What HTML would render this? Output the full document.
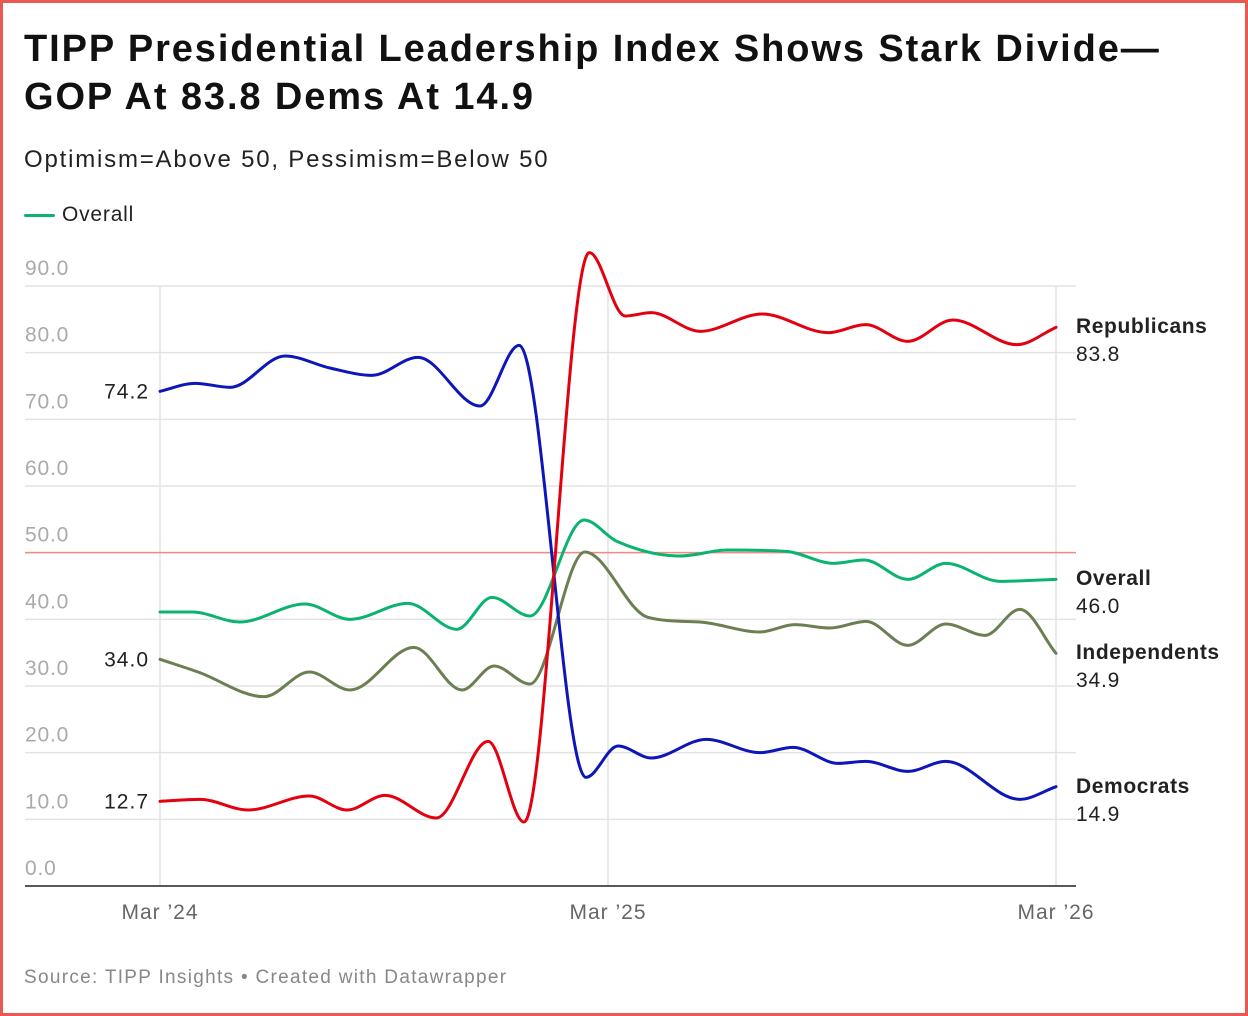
<!DOCTYPE html>
<html><head><meta charset="utf-8"><style>
html,body{margin:0;padding:0;background:#fff}
body{width:1248px;height:1016px;overflow:hidden;position:relative;font-family:"Liberation Sans",sans-serif}
#frame{position:absolute;left:0;top:0;width:1242px;height:1010px;border:3px solid #e8594f}
.t{position:absolute;left:24px;font-weight:bold;font-size:38px;color:#111;line-height:48px;letter-spacing:1.9px}
</style></head><body>
<div id="frame"></div>
<div class="t" style="top:25px">TIPP Presidential Leadership Index Shows Stark Divide—<br>GOP At 83.8 Dems At 14.9</div>
<div style="position:absolute;left:24px;top:146px;font-size:24px;color:#222;letter-spacing:1.8px">Optimism=Above 50, Pessimism=Below 50</div>
<div style="position:absolute;left:24px;top:203px;font-size:21px;color:#222;letter-spacing:0.8px"><span style="display:inline-block;width:31px;height:3px;background:#0ab36f;vertical-align:middle;margin-right:7px;border-radius:2px"></span>Overall</div>
<svg id="c" width="1248" height="1016" style="position:absolute;left:0;top:0"></svg>
<div style="position:absolute;left:24px;top:967px;font-size:19px;color:#888;letter-spacing:1.3px">Source: TIPP Insights • Created with Datawrapper</div>
<script>
const NS="http://www.w3.org/2000/svg";
const yTicks=[0,10,20,30,40,50,60,70,80,90];
const xTickMonths=[0,12,24];
const xTickLabels=["Mar ’24","Mar ’25","Mar ’26"];
// month offsets from Mar 2024
const repMonths=[0,1.07,2.36,4.0,5.01,6.03,7.4,8.79,9.75,11.5,12.46,13.16,14.47,16.13,17.9,18.9,20.03,21.24,22.95,24];
const repVals=[12.7,13.0,11.4,13.5,11.4,13.6,10.2,21.7,9.6,95,85.5,86,83.2,85.8,83,84.2,81.7,84.9,81.2,83.8];
const demMonths=[0,0.94,1.88,3.35,4.55,5.68,6.91,8.57,9.62,11.41,12.27,13.16,14.63,16.07,16.96,18.16,18.9,20.03,21.05,23.03,24];
const demVals=[74.2,75.4,74.8,79.5,77.7,76.6,79.3,72,81.1,16.3,21,19.2,22,20,20.8,18.4,18.7,17.2,18.7,13,14.9];
const ovrMonths=[0,0.86,2.14,3.88,5.09,6.64,7.95,8.89,9.91,11.36,12.24,13.93,15.21,16.77,18.05,18.86,20.03,21.05,22.5,24];
const ovrVals=[41.1,41.1,39.6,42.3,40,42.4,38.5,43.3,40.5,54.9,51.7,49.5,50.4,50.2,48.4,48.9,46,48.4,45.7,46];
const indMonths=[0,1.02,2.79,4.0,5.09,6.8,8.09,8.95,9.91,11.38,13.07,14.46,16.07,17.0,17.95,18.91,20.03,21.05,22.1,23.03,24];
const indVals=[34,32.1,28.4,32.1,29.4,35.8,29.4,33,30.3,50.1,40.3,39.6,38.1,39.2,38.7,39.7,36.1,39.3,37.6,41.5,34.9];
const X=m=>160+m*(896/24);
const Y=v=>886-v*(600/90);
const svg=document.getElementById('c');
function mk(tag,attrs,txt){const e=document.createElementNS(NS,tag);for(const k in attrs)e.setAttribute(k,attrs[k]);if(txt!=null)e.textContent=txt;svg.appendChild(e);return e;}
yTicks.forEach(v=>{
  if(v>0){const g=mk('line',{x1:25,x2:1076,y1:Y(v),y2:Y(v),stroke:'#e3e3e3','stroke-width':1.5});
  
  }
  const t=mk('text',{x:25,y:Y(v)-11,'font-size':21,fill:'#aaa','letter-spacing':0.8,'font-family':'Liberation Sans, sans-serif'},v.toFixed(1));
  
  
});
xTickMonths.forEach((m,i)=>{
  const g=mk('line',{x1:X(m),x2:X(m),y1:Y(90),y2:Y(0),stroke:'#e3e3e3','stroke-width':1.5});
  
  
  const t=mk('text',{x:X(m),y:919,'font-size':21,fill:'#666','text-anchor':'middle','letter-spacing':1,'font-family':'Liberation Sans, sans-serif'},xTickLabels[i]);
  
  
});
const ref=mk('line',{x1:25,x2:1076,y1:Y(50),y2:Y(50),stroke:'#ef8b85','stroke-width':1.5});


const base=mk('line',{x1:25,x2:1076,y1:Y(0),y2:Y(0),stroke:'#222','stroke-width':1.5});


function monotone(xs,ys){
  const n=xs.length,d=[],m=[];
  for(let i=0;i<n-1;i++)d.push((ys[i+1]-ys[i])/(xs[i+1]-xs[i]));
  for(let i=0;i<n;i++){
    if(i===0)m.push(d[0]);else if(i===n-1)m.push(d[n-2]);
    else m.push(d[i-1]*d[i]<=0?0:(d[i-1]+d[i])/2);
  }
  for(let i=0;i<n-1;i++){if(d[i]===0){m[i]=0;m[i+1]=0;continue;}
    const a=m[i]/d[i],b=m[i+1]/d[i],s=a*a+b*b;if(s>9){const t=3/Math.sqrt(s);m[i]=t*a*d[i];m[i+1]=t*b*d[i];}}
  let p=`M${xs[0]},${ys[0]}`;
  for(let i=0;i<n-1;i++){const h=(xs[i+1]-xs[i])/3;
    p+=`C${xs[i]+h},${ys[i]+m[i]*h} ${xs[i+1]-h},${ys[i+1]-m[i+1]*h} ${xs[i+1]},${ys[i+1]}`;}
  return p;
}
function series(ms,vs,color,name){
  const p=mk('path',{d:monotone(ms.map(X),vs.map(Y)),fill:'none',stroke:color,'stroke-width':3,'stroke-linecap':'round'});
  
  
}
series(indMonths,indVals,'#6b7f52','line-independents');
series(ovrMonths,ovrVals,'#0ab36f','line-overall');
series(demMonths,demVals,'#0d16b8','line-democrats');
series(repMonths,repVals,'#e3000f','line-republicans');
function lbl(name,title,vs,yy){
  const t=mk('text',{x:1076,y:yy,'font-size':21,'font-weight':'bold',fill:'#222','letter-spacing':0.6,'font-family':'Liberation Sans, sans-serif'},title);
  
  
  const v=mk('text',{x:1076,y:yy+28,'font-size':21,fill:'#222','letter-spacing':0.8,'font-family':'Liberation Sans, sans-serif'},vs[vs.length-1].toFixed(1));
  
  
}
lbl('republicans','Republicans',repVals,333);
lbl('overall','Overall',ovrVals,585);
lbl('independents','Independents',indVals,659);
lbl('democrats','Democrats',demVals,793);
[[demVals,'democrats-start'],[indVals,'independents-start'],[repVals,'republicans-start']].forEach(([vs,n])=>{
  const t=mk('text',{x:149,y:Y(vs[0])+7,'font-size':21,fill:'#222','text-anchor':'end','letter-spacing':1,'font-family':'Liberation Sans, sans-serif'},vs[0].toFixed(1));
  
  
});
</script>
</body></html>
